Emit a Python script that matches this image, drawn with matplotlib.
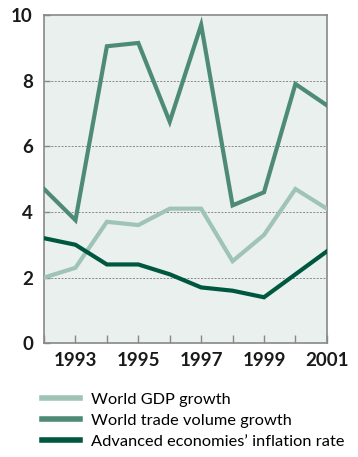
import matplotlib
matplotlib.use("Agg")
import matplotlib.pyplot as plt
from matplotlib.lines import Line2D

years = [1992, 1993, 1994, 1995, 1996, 1997, 1998, 1999, 2000, 2001]
gdp_growth = [2.0, 2.3, 3.7, 3.6, 4.1, 4.1, 2.5, 3.3, 4.7, 4.1]
trade_growth = [4.7, 3.75, 9.05, 9.15, 6.75, 9.7, 4.2, 4.6, 7.9, 7.25]
inflation = [3.2, 3.0, 2.4, 2.4, 2.1, 1.7, 1.6, 1.4, 2.1, 2.8]
labels = ["World GDP growth", "World trade volume growth",
          "Advanced economies\u2019 inflation rate"]
xtick_years = [1993, 1995, 1997, 1999, 2001]
yticks = [0, 2, 4, 6, 8, 10]

c_gdp = "#9fc4b6"
c_trade = "#4e8b77"
c_infl = "#00573f"

plt.rcParams['font.family'] = ['Lato', 'DejaVu Sans']

fig = plt.figure(figsize=(3.58, 4.57), dpi=100)
ax = fig.add_axes([0.123, 0.249, 0.79, 0.718])
ax.set_facecolor("#e9f0ed")

for yv in [2, 4, 6, 8]:
    ax.axhline(yv, color="#888888", lw=0.7, ls=(0, (2, 1.5)), zorder=1)

lw = 3.0
ax.plot(years, gdp_growth, color=c_gdp, lw=lw, zorder=3, solid_joinstyle="miter")
ax.plot(years, trade_growth, color=c_trade, lw=lw, zorder=4, solid_joinstyle="miter")
ax.plot(years, inflation, color=c_infl, lw=lw, zorder=5, solid_joinstyle="miter")

ax.set_xlim(years[0], years[-1])
ax.set_ylim(0, 10)
ax.set_xticks(years)
ax.set_xticklabels([str(y) if y in xtick_years else "" for y in years])
ax.set_yticks(yticks)
ax.tick_params(axis="x", direction="in", length=6, width=1, color="#888888",
               labelsize=13.5, pad=6)
ax.tick_params(axis="y", direction="in", length=4, width=1, color="#888888",
               labelsize=13.5, pad=8)
for lab in ax.get_xticklabels() + ax.get_yticklabels():
    lab.set_fontweight("bold")
    lab.set_color("#1a1a1a")
for s in ax.spines.values():
    s.set_color("#888888")
    s.set_linewidth(1.2)

handles = [Line2D([], [], color=c, lw=4) for c in (c_gdp, c_trade, c_infl)]
fig.legend(handles, labels, loc="upper left", bbox_to_anchor=(0.118, 0.142),
           frameon=False, fontsize=11.8, handlelength=2.3, handletextpad=0.65,
           labelspacing=0.4, borderaxespad=0, borderpad=0)

fig.savefig("out.png", dpi=100)
